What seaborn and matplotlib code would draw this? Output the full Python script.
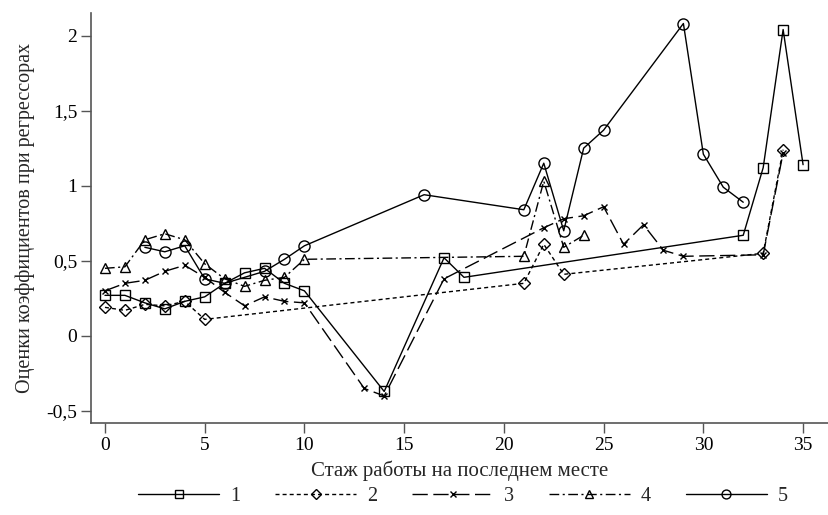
import matplotlib
matplotlib.use("Agg")
import matplotlib.pyplot as plt
import seaborn as sns
import pandas as pd

# ---- data ----
x1 = [0, 1, 2, 3, 4, 5, 6, 7, 8, 9, 10, 14, 17, 18, 32, 33, 34, 35]
y1 = [0.27, 0.27, 0.22, 0.18, 0.23, 0.26, 0.35, 0.42, 0.45, 0.35, 0.30, -0.37, 0.52, 0.39, 0.67, 1.12, 2.04, 1.14]

x2 = [0, 1, 2, 3, 4, 5, 21, 22, 23, 33, 34]
y2 = [0.19, 0.17, 0.21, 0.20, 0.23, 0.11, 0.35, 0.61, 0.41, 0.55, 1.24]

x3 = [0, 1, 2, 3, 4, 5, 6, 7, 8, 9, 10, 13, 14, 17, 22, 23, 24, 25, 26, 27, 28, 29, 33, 34]
y3 = [0.30, 0.35, 0.37, 0.43, 0.47, 0.39, 0.29, 0.20, 0.26, 0.23, 0.22, -0.35, -0.40, 0.38,
      0.72, 0.78, 0.80, 0.86, 0.61, 0.74, 0.57, 0.53, 0.54, 1.22]

x4 = [0, 1, 2, 3, 4, 5, 6, 7, 8, 9, 10, 21, 22, 23, 24]
y4 = [0.45, 0.46, 0.64, 0.68, 0.64, 0.48, 0.38, 0.33, 0.37, 0.39, 0.51, 0.53, 1.03, 0.59, 0.67]

x5 = [2, 3, 4, 5, 6, 8, 9, 10, 16, 21, 22, 23, 24, 25, 29, 30, 31, 32]
y5 = [0.59, 0.56, 0.60, 0.38, 0.35, 0.43, 0.51, 0.60, 0.94, 0.84, 1.15, 0.70, 1.25, 1.37, 2.08, 1.21, 0.99, 0.89]

series_labels = ["1", "2", "3", "4", "5"]
x_ticks = [0, 5, 10, 15, 20, 25, 30, 35]
y_ticks = [-0.5, 0, 0.5, 1, 1.5, 2]
y_tick_labels = ["-0,5", "0", "0,5", "1", "1,5", "2"]
x_title = "Стаж работы на последнем месте"
y_title = "Оценки коэффициентов при регрессорах"

# ---- style ----
sns.set_theme(style="ticks")
plt.rcParams["font.family"] = ["Liberation Serif", "DejaVu Serif"]
plt.rcParams["lines.scale_dashes"] = False
plt.rcParams["axes.unicode_minus"] = False

fig = plt.figure(figsize=(8.29, 5.15), dpi=100)
ax = fig.add_axes([91 / 829, 1 - 423 / 515, 1 - 91 / 829, (423 - 13) / 515])

specs = [
    (x1, y1, "s", "-", 7),
    (x2, y2, "D", (0, (2.9, 2.2)), 6.5),
    (x3, y3, "x", (0, (11, 4)), 5),
    (x4, y4, "^", (0, (7, 2.5, 1.5, 2.5)), 7),
    (x5, y5, "o", "-", 8),
]

for (xs, ys, mk, ls, ms), lab in zip(specs, series_labels):
    df = pd.DataFrame({"x": xs, "y": ys})
    sns.lineplot(data=df, x="x", y="y", ax=ax, color="black", linewidth=1.0,
                 linestyle=ls, marker=mk, markersize=ms, markerfacecolor="none",
                 markeredgecolor="black", markeredgewidth=1.0, label=lab,
                 legend=False)

ax.set_xlim(-0.7, 36.3)
ax.set_ylim(-0.58, 2.15)
ax.set_xticks(x_ticks)
ax.set_xticklabels([str(t) for t in x_ticks])
ax.set_yticks(y_ticks)
ax.set_yticklabels(y_tick_labels)
ax.tick_params(axis="both", labelsize=14, length=7, width=1.0, color="#555555",
               labelcolor="black", direction="out", pad=3)
for side in ["top", "right"]:
    ax.spines[side].set_visible(False)
for side in ["left", "bottom"]:
    ax.spines[side].set_color("#555555")
    ax.spines[side].set_linewidth(1.2)

ax.set_xlabel(x_title, fontsize=15, labelpad=5)
ax.set_ylabel(y_title, fontsize=14.5, labelpad=8)

h, l = ax.get_legend_handles_labels()
fig.legend(h, l, loc="center", bbox_to_anchor=(463 / 829, 1 - 496 / 515), ncol=5,
           frameon=False, fontsize=14.5, handlelength=4.0, handletextpad=0.55,
           columnspacing=1.75, markerscale=0.8)

fig.savefig("out.png", dpi=100)
